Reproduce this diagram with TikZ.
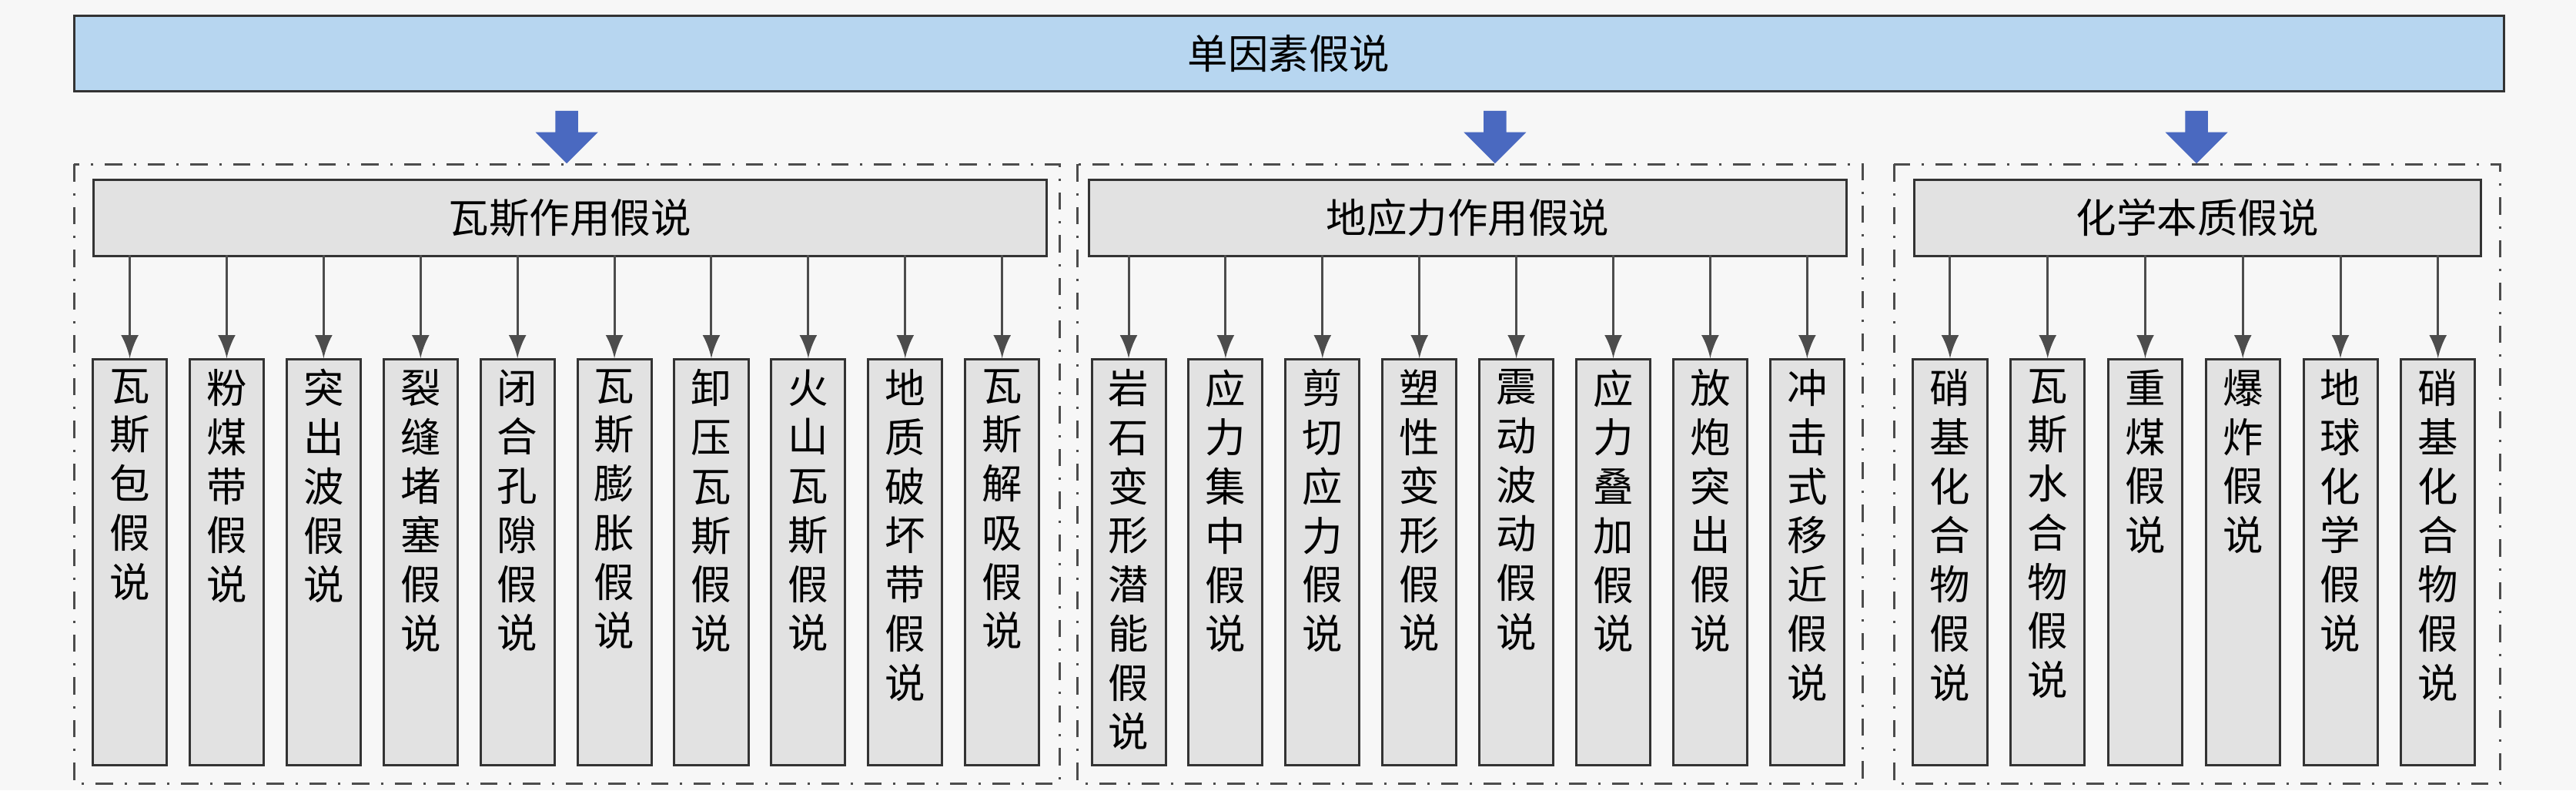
\documentclass[tikz,border=0pt]{standalone}
\usepackage{fontspec}
\setmainfont{Noto Sans CJK SC}
\usetikzlibrary{shapes.arrows}
\definecolor{barblue}{HTML}{B7D6F0}
\definecolor{boxgray}{HTML}{E2E2E2}
\definecolor{arrowblue}{HTML}{4A69C0}
\tikzset{
    top-bar/.style = {draw=black!80, fill=barblue, minimum width=147.9mm, minimum height=4.5mm, font=\fontsize{7pt}{8pt}\selectfont},
    group-frame/.style = {draw=black!70, dash dot, thin},
    group-title/.style = {draw=black!80, fill=boxgray, minimum height=4.5mm, font=\fontsize{7pt}{8pt}\selectfont},
    leaf-box/.style = {draw=black!80, fill=boxgray, minimum width=4.5mm, minimum height=24.7mm, anchor=north},
    leaf-text/.style = {anchor=north, align=center, inner sep=0pt, font=\fontsize{7pt}{8.5pt}\selectfont},
    down-arrow/.style = {single arrow, fill=arrowblue, rotate=-90, minimum height=3.2mm, minimum width=3.8mm, single arrow head extend=1mm, inner sep=0.5mm},
    link/.style = {draw=black!70, -latex},
}
\begin{document}
\begin{tikzpicture}[x=0.1mm, y=-0.1mm]
\fill[black!3] (0,0) rectangle (1568,481);
\useasboundingbox (0,0) rectangle (1568,481);
% top bar
\node[top-bar] (top) at (784.5,32.5) {单因素假说};
\foreach \x [count=\i] in {345,910,1337}
    \node[down-arrow] (arr\i) at (\x,80) {};
% groups
\draw[group-frame] (45,100) rectangle (645,477);
\draw[group-frame] (656,100) rectangle (1134,477);
\draw[group-frame] (1153,100) rectangle (1522,477);
\node[group-title, minimum width=58mm] (gas) at (347,132.5) {瓦斯作用假说};
\node[group-title, minimum width=46.1mm] (stress) at (893.5,132.5) {地应力作用假说};
\node[group-title, minimum width=34.5mm] (chem) at (1337.5,132.5) {化学本质假说};
% gas group
\foreach \t [count=\i] in {{瓦\\斯\\包\\假\\说},{粉\\煤\\带\\假\\说},{突\\出\\波\\假\\说},{裂\\缝\\堵\\塞\\假\\说},{闭\\合\\孔\\隙\\假\\说},{瓦\\斯\\膨\\胀\\假\\说},{卸\\压\\瓦\\斯\\假\\说},{火\\山\\瓦\\斯\\假\\说},{地\\质\\破\\坏\\带\\假\\说},{瓦\\斯\\解\\吸\\假\\说}}{
    \pgfmathsetmacro{\x}{79+59*(\i-1)}
    \node[leaf-box] (g\i) at (\x,218) {};
    \node[leaf-text] (gt\i) at ([yshift=-0.6mm]g\i.north) {\t};
    \draw[link] (\x,155) -- (g\i.north);
}
% stress group
\foreach \t [count=\i] in {{岩\\石\\变\\形\\潜\\能\\假\\说},{应\\力\\集\\中\\假\\说},{剪\\切\\应\\力\\假\\说},{塑\\性\\变\\形\\假\\说},{震\\动\\波\\动\\假\\说},{应\\力\\叠\\加\\假\\说},{放\\炮\\突\\出\\假\\说},{冲\\击\\式\\移\\近\\假\\说}}{
    \pgfmathsetmacro{\x}{687+59*(\i-1)}
    \node[leaf-box] (s\i) at (\x,218) {};
    \node[leaf-text] (st\i) at ([yshift=-0.6mm]s\i.north) {\t};
    \draw[link] (\x,155) -- (s\i.north);
}
% chemistry group
\foreach \t [count=\i] in {{硝\\基\\化\\合\\物\\假\\说},{瓦\\斯\\水\\合\\物\\假\\说},{重\\煤\\假\\说},{爆\\炸\\假\\说},{地\\球\\化\\学\\假\\说},{硝\\基\\化\\合\\物\\假\\说}}{
    \pgfmathsetmacro{\x}{1187+59.4*(\i-1)}
    \node[leaf-box] (c\i) at (\x,218) {};
    \node[leaf-text] (ct\i) at ([yshift=-0.6mm]c\i.north) {\t};
    \draw[link] (\x,155) -- (c\i.north);
}
\end{tikzpicture}
\end{document}
